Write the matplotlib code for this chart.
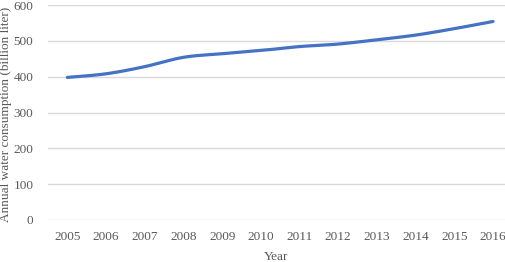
import numpy as np
import matplotlib
matplotlib.use("Agg")
import matplotlib.pyplot as plt

years = [2005, 2006, 2007, 2008, 2009, 2010, 2011, 2012, 2013, 2014, 2015, 2016]
consumption = [398, 408, 428, 454, 464, 473, 484, 491, 503, 516, 534, 554]
yticks = [0, 100, 200, 300, 400, 500, 600]

def smooth(x, y, n=20):
    # Catmull-Rom style smoothing (like a spreadsheet "smoothed line")
    x = np.asarray(x, float); y = np.asarray(y, float)
    px = np.concatenate([[x[0]], x, [x[-1]]])
    py = np.concatenate([[y[0]], y, [y[-1]]])
    xs, ys = [], []
    for i in range(1, len(px) - 2):
        t = np.linspace(0, 1, n, endpoint=False)
        for p, out in ((px, xs), (py, ys)):
            p0, p1, p2, p3 = p[i-1], p[i], p[i+1], p[i+2]
            out.extend(0.5 * ((2*p1) + (-p0 + p2)*t + (2*p0 - 5*p1 + 4*p2 - p3)*t**2
                              + (-p0 + 3*p1 - 3*p2 + p3)*t**3))
    xs.append(x[-1]); ys.append(y[-1])
    return np.array(xs), np.array(ys)

plt.rcParams['font.family'] = ['Liberation Serif', 'DejaVu Serif']
fig = plt.figure(figsize=(5.05, 2.62), dpi=100)
ax = fig.add_axes([48/505, 42/262, (505-48)/505, 215/262])

sx, sy = smooth(years, consumption)
ax.plot(sx, sy, color='#4472C4', lw=2.3, solid_capstyle='round', zorder=3)

ax.set_xlim(2004.5, 2016.31)
ax.set_ylim(0, 600)
ax.set_yticks(yticks)
ax.set_xticks(years)
ax.grid(axis='y', color='#d9d9d9', lw=1)
ax.set_axisbelow(True)
for s in ax.spines.values():
    s.set_visible(False)
ax.tick_params(length=0, labelsize=9.5, colors='#595959')
ax.tick_params(axis='y', pad=10.5)
ax.tick_params(axis='x', pad=8)
ax.set_xlabel('Year', fontsize=9.5, color='#595959', labelpad=6)
ax.set_ylabel('Annual water consumption (billion liter)', fontsize=9.5, color='#595959',
              va='center')
ax.yaxis.set_label_coords(-0.092, 0.49)
fig.savefig('out.png', dpi=100)
